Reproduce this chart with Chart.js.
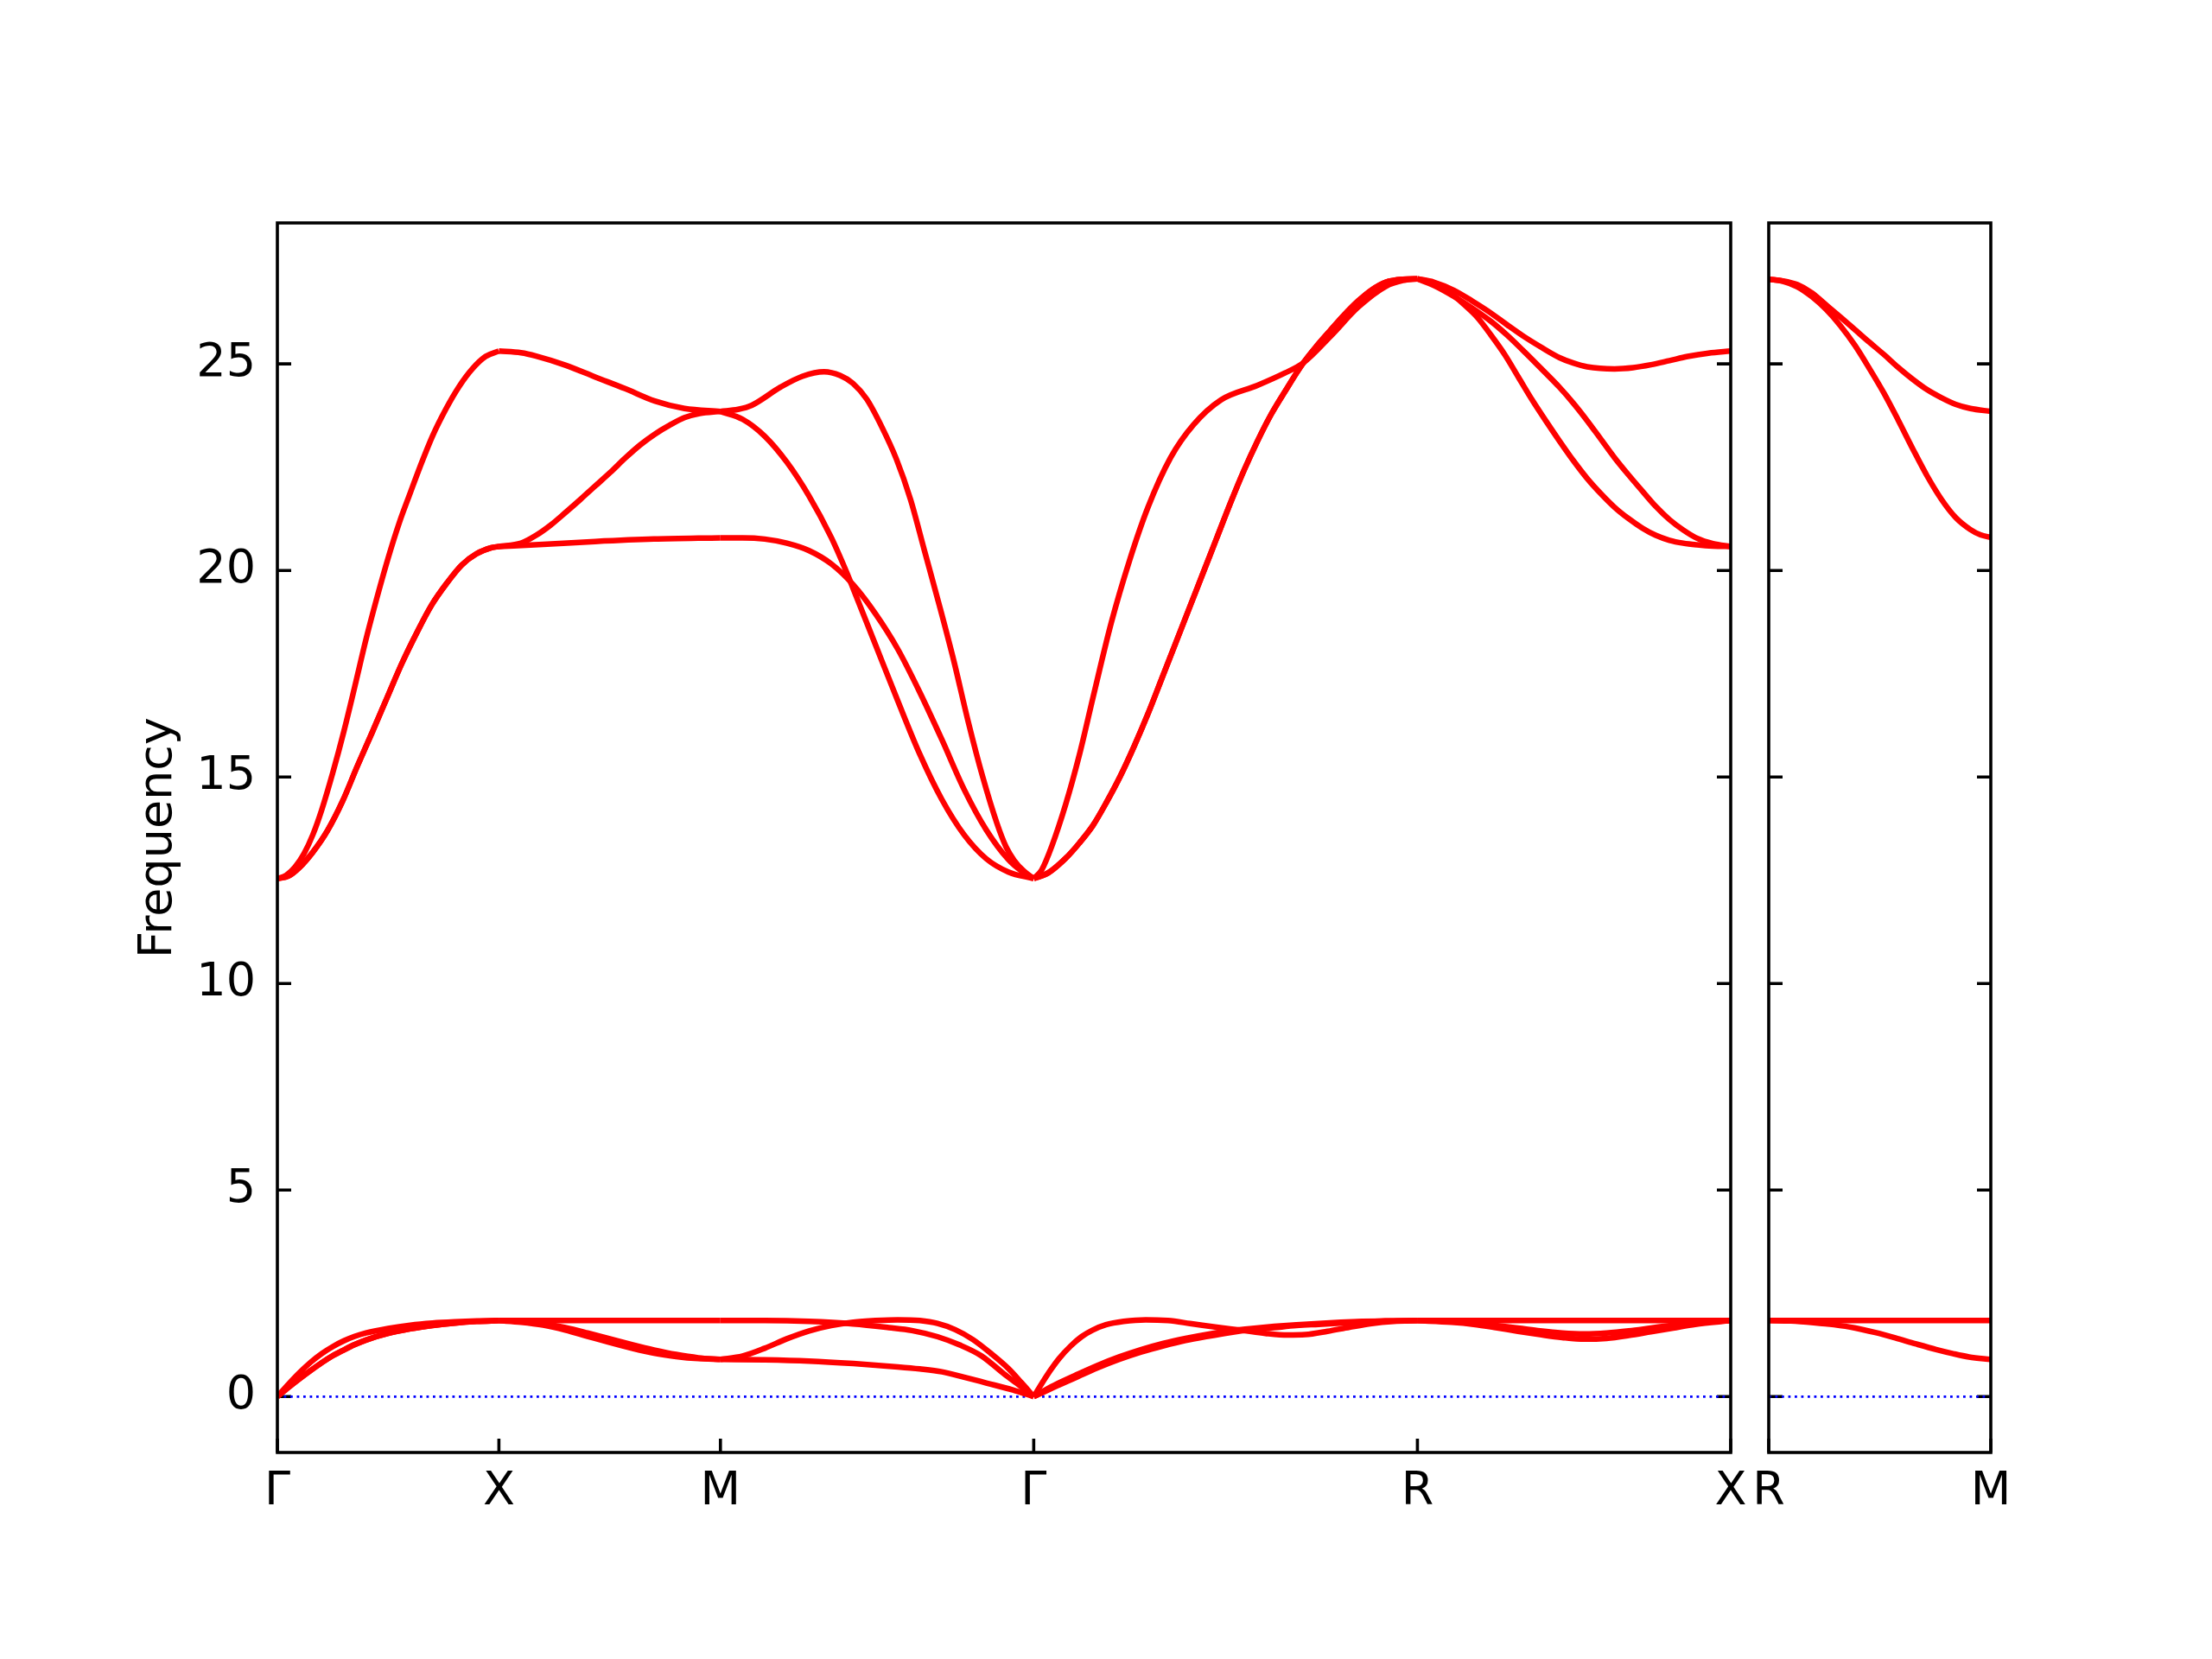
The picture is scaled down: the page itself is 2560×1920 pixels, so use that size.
<!DOCTYPE html>
<html>
<head>
<meta charset="utf-8">
<script src="https://cdn.jsdelivr.net/npm/chart.js@4.4.1/dist/chart.umd.min.js"></script>
<style>
  body { margin: 0; background: #fff; }
  #wrap { position: relative; width: 2560px; height: 1920px; }
  canvas { position: absolute; left: 0; top: 0; }
</style>
</head>
<body>
<div id="wrap">
  <canvas id="main" width="2560" height="1920"></canvas>
  <canvas id="side" width="2560" height="1920"></canvas>
</div>
<script>
// high symmetry path (distance along path) and labels
const pathTicks = [0, 0.5, 1.0, 1.7071, 2.5731, 3.2802];
const pathLabels = ['Γ', 'X', 'M', 'Γ', 'R', 'X'];
const sideTicks = [0, 0.5];
const sideLabels = ['R', 'M'];
const freqTicks = [0, 5, 10, 15, 20, 25];
const freqMin = -1.353;
const freqMax = 28.413;

// acoustic branches, main path
const acu1 = [[0,0],[0.025,0.3],[0.05,0.58],[0.075,0.83],[0.1,1.04],[0.125,1.21],[0.15,1.35],[0.175,1.46],[0.2,1.54],[0.25,1.65],[0.3,1.73],[0.35,1.78],[0.4,1.81],[0.45,1.83],[0.5,1.84],
  [0.75,1.84],[1.0,1.84],
  [1.1,1.84],[1.2,1.82],[1.3,1.76],[1.38,1.67],[1.432,1.6],[1.49,1.45],[1.54,1.25],[1.59,0.98],[1.64,0.55],[1.675,0.27],[1.7071,0],
  [1.725,0.31],[1.745,0.64],[1.765,0.93],[1.79,1.22],[1.815,1.45],[1.84,1.61],[1.87,1.74],[1.91,1.82],[1.96,1.86],[2.01,1.84],[2.06,1.77],[2.12,1.68],[2.18,1.6],[2.23,1.53],[2.28,1.49],[2.32,1.5],[2.37,1.58],[2.42,1.68],[2.47,1.77],[2.52,1.82],[2.5731,1.84],
  [2.93,1.84],[3.2802,1.84]];
const acu2 = [[0,0],[0.025,0.22],[0.05,0.43],[0.075,0.63],[0.1,0.82],[0.125,0.99],[0.15,1.13],[0.175,1.26],[0.2,1.37],[0.25,1.53],[0.3,1.64],[0.35,1.72],[0.4,1.78],[0.45,1.82],[0.5,1.84],
  [0.55,1.82],[0.6,1.77],[0.65,1.67],[0.7,1.54],[0.75,1.4],[0.8,1.26],[0.85,1.13],[0.9,1.02],[0.95,0.94],[1.0,0.9],
  [1.05,0.98],[1.1,1.17],[1.15,1.4],[1.2,1.59],[1.25,1.72],[1.3,1.8],[1.35,1.84],[1.4,1.86],[1.45,1.84],[1.49,1.77],[1.53,1.62],[1.57,1.38],[1.61,1.05],[1.65,0.68],[1.68,0.33],[1.7071,0],
  [1.73,0.14],[1.76,0.31],[1.8,0.51],[1.85,0.75],[1.9,0.96],[1.95,1.14],[2.0,1.29],[2.05,1.41],[2.1,1.51],[2.15,1.59],[2.2,1.65],[2.25,1.7],[2.3,1.74],[2.35,1.77],[2.4,1.8],[2.45,1.82],[2.5,1.83],[2.5731,1.84],
  [2.65,1.82],[2.7,1.78],[2.75,1.72],[2.8,1.66],[2.85,1.59],[2.9,1.54],[2.95,1.52],[3.0,1.54],[3.05,1.59],[3.1,1.66],[3.15,1.73],[3.2,1.79],[3.2802,1.84]];
const acu3 = [[0,0],[0.025,0.22],[0.05,0.43],[0.075,0.63],[0.1,0.82],[0.125,0.99],[0.15,1.13],[0.175,1.26],[0.2,1.37],[0.25,1.53],[0.3,1.64],[0.35,1.72],[0.4,1.78],[0.45,1.82],[0.5,1.84],
  [0.55,1.8],[0.6,1.73],[0.65,1.61],[0.7,1.46],[0.75,1.31],[0.8,1.17],[0.85,1.05],[0.9,0.97],[0.95,0.92],[1.0,0.9],
  [1.1,0.89],[1.2,0.86],[1.3,0.8],[1.4,0.72],[1.45,0.67],[1.5,0.6],[1.55,0.47],[1.6,0.33],[1.66,0.16],[1.7071,0],
  [1.73,0.11],[1.76,0.26],[1.8,0.45],[1.85,0.69],[1.9,0.9],[1.95,1.08],[2.0,1.23],[2.05,1.36],[2.1,1.46],[2.15,1.55],[2.2,1.62],[2.25,1.67],[2.3,1.72],[2.35,1.75],[2.4,1.78],[2.45,1.81],[2.5,1.83],[2.5731,1.84],
  [2.65,1.8],[2.7,1.75],[2.75,1.67],[2.8,1.58],[2.85,1.5],[2.9,1.43],[2.95,1.39],[3.0,1.41],[3.05,1.48],[3.1,1.57],[3.15,1.66],[3.2,1.75],[3.2802,1.84]];

// optical branches, main path
const opt1 = [[0,12.54],[0.025,12.6],[0.05,12.81],[0.08,13.18],[0.113,13.7],[0.147,14.41],[0.18,15.25],[0.214,16.08],[0.248,16.93],[0.281,17.75],[0.315,18.5],[0.348,19.16],[0.383,19.7],[0.416,20.13],[0.449,20.4],[0.483,20.55],[0.5,20.58],
  [0.6,20.63],[0.717,20.7],[0.85,20.76],[1.0,20.79],
  [1.05,20.79],[1.1,20.76],[1.15,20.66],[1.2,20.48],[1.25,20.16],[1.3,19.65],[1.35,18.95],[1.4,18.1],[1.45,17.05],[1.5,15.9],[1.55,14.7],[1.6,13.72],[1.65,13.0],[1.68,12.72],[1.7071,12.54],
  [1.74,12.68],[1.779,13.03],[1.81,13.4],[1.841,13.83],[1.872,14.4],[1.903,15.03],[1.934,15.75],[1.965,16.53],[1.996,17.38],[2.027,18.23],[2.058,19.08],[2.089,19.93],[2.12,20.78],[2.151,21.63],[2.182,22.43],[2.212,23.13],[2.243,23.78],[2.274,24.33],[2.316,25.03],[2.347,25.45],[2.378,25.83],[2.409,26.2],[2.44,26.53],[2.471,26.8],[2.502,26.98],[2.54,27.05],[2.5731,27.06],
  [2.61,26.95],[2.646,26.73],[2.677,26.45],[2.708,26.13],[2.739,25.7],[2.77,25.23],[2.801,24.68],[2.832,24.13],[2.863,23.62],[2.894,23.13],[2.925,22.66],[2.956,22.23],[2.987,21.86],[3.018,21.53],[3.049,21.26],[3.08,21.03],[3.111,20.85],[3.142,20.73],[3.173,20.66],[3.204,20.62],[3.24,20.59],[3.2802,20.58]];
const opt2 = [[0,12.54],[0.025,12.6],[0.05,12.81],[0.08,13.18],[0.113,13.7],[0.147,14.41],[0.18,15.25],[0.214,16.08],[0.248,16.93],[0.281,17.75],[0.315,18.5],[0.348,19.16],[0.383,19.7],[0.416,20.13],[0.449,20.4],[0.483,20.55],[0.5,20.58],
  [0.55,20.66],[0.584,20.85],[0.617,21.1],[0.65,21.4],[0.684,21.72],[0.718,22.05],[0.752,22.38],[0.785,22.72],[0.819,23.04],[0.852,23.3],[0.886,23.52],[0.919,23.7],[0.953,23.8],[1.0,23.85],
  [1.05,23.66],[1.1,23.25],[1.15,22.62],[1.2,21.8],[1.25,20.8],[1.285,19.95],[1.3,19.55],[1.35,18.2],[1.4,16.85],[1.45,15.55],[1.5,14.45],[1.55,13.6],[1.6,13.02],[1.65,12.7],[1.7071,12.54],
  [1.74,12.68],[1.779,13.03],[1.81,13.4],[1.841,13.83],[1.872,14.4],[1.903,15.03],[1.934,15.75],[1.965,16.53],[1.996,17.38],[2.027,18.23],[2.058,19.08],[2.089,19.93],[2.12,20.78],[2.151,21.63],[2.182,22.43],[2.212,23.13],[2.243,23.78],[2.274,24.33],[2.316,25.03],[2.347,25.45],[2.378,25.83],[2.409,26.2],[2.44,26.53],[2.471,26.8],[2.502,26.98],[2.54,27.05],[2.5731,27.06],
  [2.61,26.9],[2.656,26.63],[2.697,26.35],[2.739,26.03],[2.775,25.7],[2.811,25.33],[2.853,24.88],[2.894,24.43],[2.925,24.05],[2.956,23.63],[2.987,23.18],[3.018,22.73],[3.049,22.32],[3.08,21.93],[3.111,21.55],[3.142,21.23],[3.173,20.98],[3.204,20.78],[3.24,20.65],[3.2802,20.58]];
const opt3 = [[0,12.54],[0.02,12.62],[0.04,12.82],[0.06,13.14],[0.08,13.6],[0.1,14.2],[0.125,15.1],[0.15,16.1],[0.175,17.2],[0.2,18.33],[0.225,19.35],[0.25,20.3],[0.275,21.15],[0.3,21.88],[0.322,22.51],[0.35,23.25],[0.38,23.9],[0.41,24.45],[0.44,24.88],[0.47,25.18],[0.5,25.31],
  [0.55,25.27],[0.584,25.19],[0.65,24.97],[0.718,24.68],[0.785,24.4],[0.852,24.1],[0.919,23.92],[1.0,23.85],
  [1.04,23.9],[1.071,24.0],[1.136,24.44],[1.185,24.7],[1.234,24.81],[1.27,24.72],[1.299,24.53],[1.33,24.15],[1.364,23.48],[1.397,22.7],[1.429,21.72],[1.46,20.5],[1.494,19.16],[1.527,17.8],[1.559,16.35],[1.592,15.0],[1.624,13.88],[1.645,13.3],[1.663,12.98],[1.685,12.72],[1.7071,12.54],
  [1.725,12.75],[1.748,13.33],[1.779,14.33],[1.81,15.53],[1.841,16.93],[1.882,18.73],[1.923,20.23],[1.965,21.53],[2.016,22.73],[2.068,23.53],[2.13,24.13],[2.212,24.48],[2.274,24.78],[2.316,25.03],[2.378,25.68],[2.44,26.38],[2.502,26.88],[2.54,27.02],[2.5731,27.06],
  [2.61,26.98],[2.656,26.78],[2.697,26.52],[2.739,26.23],[2.775,25.95],[2.811,25.68],[2.853,25.4],[2.894,25.15],[2.925,25.02],[2.956,24.93],[3.018,24.88],[3.06,24.91],[3.1,24.98],[3.142,25.08],[3.183,25.18],[3.23,25.26],[3.2802,25.31]];

// R -> M panel
const sideAcu1 = [[0,1.84],[0.25,1.84],[0.5,1.84]];
const sideAcu2 = [[0,1.84],[0.05,1.83],[0.101,1.79],[0.147,1.74],[0.193,1.665],[0.24,1.55],[0.285,1.42],[0.33,1.28],[0.377,1.14],[0.415,1.04],[0.451,0.96],[0.5,0.9]];
const sideOpt1 = [[0,27.05],[0.032,27.0],[0.064,26.87],[0.097,26.63],[0.129,26.32],[0.161,25.93],[0.194,25.45],[0.226,24.9],[0.259,24.3],[0.291,23.65],[0.324,22.95],[0.356,22.3],[0.389,21.72],[0.421,21.28],[0.454,20.99],[0.477,20.86],[0.5,20.8]];
const sideOpt2 = [[0,27.05],[0.032,27.01],[0.064,26.92],[0.097,26.72],[0.129,26.43],[0.161,26.14],[0.194,25.83],[0.226,25.53],[0.259,25.23],[0.291,24.92],[0.324,24.63],[0.356,24.38],[0.389,24.18],[0.421,24.02],[0.454,23.92],[0.5,23.85]];

Chart.defaults.font.family = "'DejaVu Sans', sans-serif";
Chart.defaults.color = '#000';

const RED = '#ff0000';

// one dataset per band per path segment, so kinks at the labelled points stay sharp
function bandSets(bands, ticks) {
  const sets = [];
  bands.forEach(band => {
    for (let i = 0; i < ticks.length - 1; i++) {
      const pts = band
        .filter(p => p[0] >= ticks[i] - 1e-6 && p[0] <= ticks[i + 1] + 1e-6)
        .map(p => ({x: p[0], y: p[1]}));
      if (pts.length > 1) {
        sets.push({data: pts, borderColor: RED, borderWidth: 6.5,
          pointRadius: 0, cubicInterpolationMode: 'monotone'});
      }
    }
  });
  return sets;
}

function zeroLine(ticks) {
  return {data: [{x: ticks[0], y: 0}, {x: ticks[ticks.length - 1], y: 0}],
    borderColor: '#0000ff', borderWidth: 2.8, borderDash: [2.8, 4.7], pointRadius: 0};
}

const frame = {
  id: 'frame',
  beforeDatasetsDraw(chart) {
    const {ctx, chartArea: a, scales: {x, y}} = chart;
    ctx.save();
    ctx.strokeStyle = '#000';
    ctx.lineWidth = 3.6;
    ctx.beginPath();
    freqTicks.forEach(v => {
      const py = y.getPixelForValue(v);
      ctx.moveTo(a.left, py); ctx.lineTo(a.left + 16, py);
      ctx.moveTo(a.right, py); ctx.lineTo(a.right - 16, py);
    });
    x.ticks.forEach(t => {
      const px = x.getPixelForValue(t.value);
      ctx.moveTo(px, a.bottom); ctx.lineTo(px, a.bottom - 16);
    });
    ctx.stroke();
    ctx.restore();
  },
  afterDatasetsDraw(chart) {
    const {ctx, chartArea: a} = chart;
    ctx.save();
    ctx.strokeStyle = '#000';
    ctx.lineWidth = 3.6;
    ctx.strokeRect(a.left, a.top, a.right - a.left, a.bottom - a.top);
    ctx.restore();
  }
};

function makeChart(id, bands, ticks, labels, pad, showY) {
  return new Chart(document.getElementById(id), {
    type: 'line',
    data: {datasets: [...bandSets(bands, ticks), zeroLine(ticks)]},
    options: {
      responsive: false,
      animation: false,
      devicePixelRatio: 1,
      events: [],
      layout: {padding: pad},
      plugins: {legend: {display: false}, tooltip: {enabled: false}},
      scales: {
        x: {
          type: 'linear', min: ticks[0], max: ticks[ticks.length - 1],
          grid: {display: false, drawTicks: false}, border: {display: false},
          afterBuildTicks: s => { s.ticks = ticks.map(v => ({value: v})); },
          afterFit: s => { s.height = 100; },
          ticks: {autoSkip: false, maxRotation: 0, padding: 14, font: {size: 54},
            callback: (v, i) => labels[i]}
        },
        y: {
          display: showY, min: freqMin, max: freqMax,
          grid: {display: false, drawTicks: false}, border: {display: false},
          afterBuildTicks: s => { s.ticks = freqTicks.map(v => ({value: v})); },
          afterFit: s => { s.width = showY ? 321 : 0; },
          ticks: {padding: 25, font: {size: 54}},
          title: {display: showY, text: 'Frequency', font: {size: 54}, padding: {top: 152, bottom: 0}}
        }
      }
    },
    plugins: [frame]
  });
}

makeChart('main', [acu1, acu2, acu3, opt1, opt2, opt3], pathTicks, pathLabels,
  {left: 0, right: 557, top: 258, bottom: 139}, true);
makeChart('side', [sideAcu1, sideAcu2, sideOpt1, sideOpt2], sideTicks, sideLabels,
  {left: 2047, right: 256, top: 258, bottom: 139}, false);
</script>
</body>
</html>
